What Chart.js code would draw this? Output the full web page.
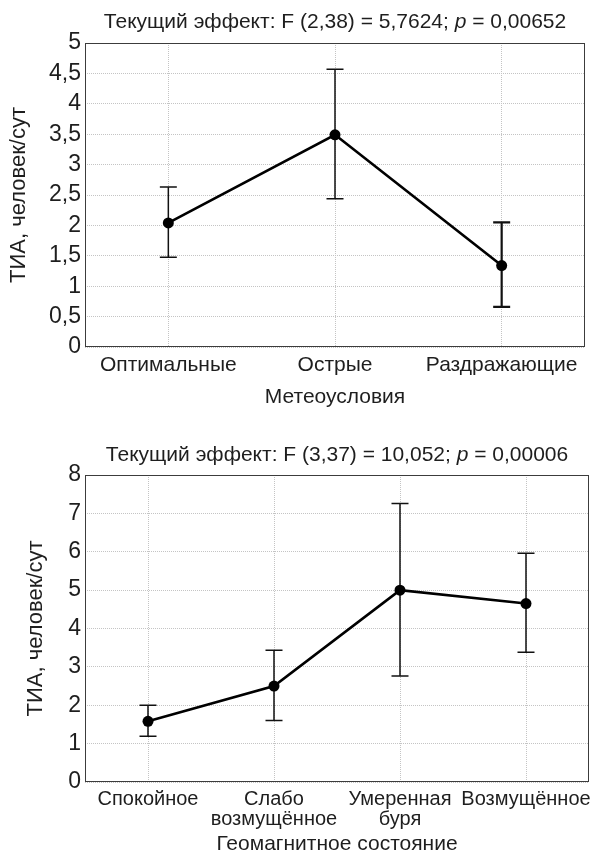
<!DOCTYPE html>
<html>
<head>
<meta charset="utf-8">
<script src="https://cdn.jsdelivr.net/npm/chart.js@4.4.1/dist/chart.umd.min.js"></script>
<style>
  html, body { margin: 0; padding: 0; background: #fff; }
  .box { position: absolute; left: 0; }
  #box1 { top: 0; }
  #box2 { top: 430px; }
</style>
</head>
<body>
<div class="box" id="box1"><canvas id="chartMeteo" width="595" height="425"></canvas></div>
<div class="box" id="box2"><canvas id="chartGeo" width="595" height="427"></canvas></div>
<script>
// Метеоусловия
const meteoLabels = ['Оптимальные', 'Острые', 'Раздражающие'];
const meteoMeans = [2.04, 3.49, 1.34];
const meteoUpper = [2.63, 4.57, 2.05];
const meteoLower = [1.475, 2.44, 0.66];
const meteoTicks = [0, 0.5, 1, 1.5, 2, 2.5, 3, 3.5, 4, 4.5, 5];

// Геомагнитное состояние
const geoLabels = ['Спокойное', ['Слабо', 'возмущённое'], ['Умеренная', 'буря'], 'Возмущённое'];
const geoMeans = [1.58, 2.50, 5.00, 4.65];
const geoUpper = [2.00, 3.43, 7.26, 5.96];
const geoLower = [1.19, 1.60, 2.76, 3.38];
const geoTicks = [0, 1, 2, 3, 4, 5, 6, 7, 8];

const FONT = "'Liberation Sans', Arial, sans-serif";
const TEXT = '#1e1e1e';

// усы: вертикальная линия + засечки
const errorBars = {
    id: 'errorBars',
    beforeDatasetsDraw(chart, args, opts) {
        const { ctx, scales: { x, y } } = chart;
        ctx.save();
        ctx.strokeStyle = '#111';
        opts.lower.forEach((lo, i) => {
            const px = x.getPixelForValue(i);
            const yLo = y.getPixelForValue(lo);
            const yHi = y.getPixelForValue(opts.upper[i]);
            ctx.lineWidth = opts.widths[i];
            ctx.beginPath();
            ctx.moveTo(px, yLo); ctx.lineTo(px, yHi);
            ctx.moveTo(px - opts.cap, yLo); ctx.lineTo(px + opts.cap, yLo);
            ctx.moveTo(px - opts.cap, yHi); ctx.lineTo(px + opts.cap, yHi);
            ctx.stroke();
        });
        ctx.restore();
    }
};

// рамка вокруг области графика и заголовок с курсивным p
const frameTitle = {
    id: 'frameTitle',
    beforeDatasetsDraw(chart) {
        const { ctx, chartArea: a } = chart;
        ctx.save();
        ctx.strokeStyle = '#3c3c3c';
        ctx.lineWidth = 1;
        ctx.strokeRect(Math.round(a.left) + 0.5, Math.round(a.top) + 0.5,
            Math.round(a.width) - 1, Math.round(a.height) - 1);
        ctx.restore();
    },
    afterDraw(chart, args, opts) {
        const { ctx, chartArea: a } = chart;
        ctx.save();
        ctx.fillStyle = TEXT;
        ctx.textBaseline = 'alphabetic';
        const fontOf = p => (p.italic ? 'italic ' : '') + opts.size + 'px ' + FONT;
        let total = 0;
        opts.parts.forEach(p => { ctx.font = fontOf(p); total += ctx.measureText(p.t).width; });
        let x = (a.left + a.right) / 2 - total / 2;
        opts.parts.forEach(p => {
            ctx.font = fontOf(p);
            ctx.fillText(p.t, x, opts.y);
            x += ctx.measureText(p.t).width;
        });
        ctx.restore();
    }
};

function buildChart(canvasId, cfg) {
    const ctx = document.getElementById(canvasId).getContext('2d');
    return new Chart(ctx, {
        type: 'line',
        data: {
            labels: cfg.labels,
            datasets: [{
                data: cfg.means,
                borderColor: '#000',
                backgroundColor: '#000',
                borderWidth: 2.6,
                pointRadius: 5.5,
                pointBackgroundColor: '#000',
                pointBorderWidth: 0,
                tension: 0,
                fill: false,
            }],
        },
        options: {
            responsive: false,
            animation: false,
            layout: { padding: { top: cfg.plotTop, right: cfg.right, left: 0, bottom: 0 } },
            plugins: {
                legend: { display: false },
                title: { display: false },
                tooltip: { enabled: false },
                errorBars: { lower: cfg.lower, upper: cfg.upper, cap: 8.5, widths: cfg.barWidths },
                frameTitle: { parts: cfg.title, size: 21, y: cfg.titleY },
            },
            scales: {
                x: {
                    offset: true,
                    grid: { color: '#c4c4c4', lineWidth: 1, drawTicks: false, offset: false },
                    border: { display: false, dash: [1, 1] },
                    ticks: { font: { family: FONT, size: cfg.catSize, lineHeight: 0.98 }, color: TEXT, padding: 8, maxRotation: 0, autoSkip: false },
                    title: {
                        display: true, text: cfg.xTitle, color: TEXT,
                        font: { family: FONT, size: 21 }, padding: { top: 0, bottom: cfg.xTitlePad },
                    },
                    afterFit: s => { s.height = cfg.xHeight; s.paddingLeft = 0; s.paddingRight = 0; },
                },
                y: {
                    min: cfg.ticks[0],
                    max: cfg.ticks[cfg.ticks.length - 1],
                    afterBuildTicks: s => { s.ticks = cfg.ticks.map(v => ({ value: v })); },
                    grid: { color: '#c4c4c4', lineWidth: 1, drawTicks: false },
                    border: { display: false, dash: [1, 1] },
                    ticks: {
                        font: { family: FONT, size: 23 }, color: TEXT, padding: 4, autoSkip: false,
                        callback: v => String(v).replace('.', ','),
                    },
                    title: {
                        display: true, text: 'ТИА, человек/сут', color: TEXT,
                        font: { family: FONT, size: 22 }, padding: { top: cfg.yTitlePad, bottom: 0 },
                    },
                    afterFit: s => { s.width = 85; s.paddingTop = 0; s.paddingBottom = 0; },
                },
            },
        },
        plugins: [errorBars, frameTitle],
    });
}

buildChart('chartMeteo', {
    labels: meteoLabels, means: meteoMeans, upper: meteoUpper, lower: meteoLower, ticks: meteoTicks,
    barWidths: [1.5, 1.5, 2.2], catSize: 21,
    title: [{ t: 'Текущий эффект: F (2,38) = 5,7624; ' }, { t: 'p', italic: true }, { t: ' = 0,00652' }],
    titleY: 28, plotTop: 43, right: 10, xHeight: 78, xTitle: 'Метеоусловия', xTitlePad: 15, yTitlePad: 6,
});

buildChart('chartGeo', {
    labels: geoLabels, means: geoMeans, upper: geoUpper, lower: geoLower, ticks: geoTicks,
    barWidths: [1.5, 1.5, 1.5, 1.5], catSize: 20,
    title: [{ t: 'Текущий эффект: F (3,37) = 10,052; ' }, { t: 'p', italic: true }, { t: ' = 0,00006' }],
    titleY: 31, plotTop: 45, right: 6, xHeight: 75, xTitle: 'Геомагнитное состояние', xTitlePad: 0, yTitlePad: 23,
});
</script>
</body>
</html>
